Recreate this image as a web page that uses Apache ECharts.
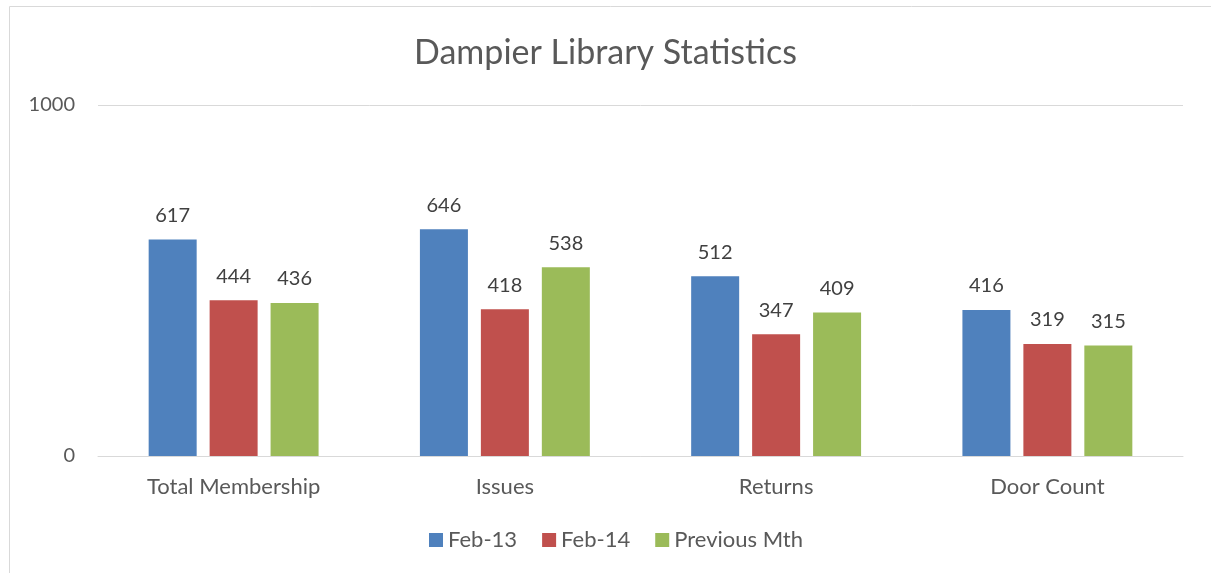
<!DOCTYPE html>
<html><head><meta charset="utf-8">
<script src="https://cdn.jsdelivr.net/npm/echarts@6/dist/echarts.min.js"></script>
<style>html,body{margin:0;padding:0;background:#fff}#c{width:1211px;height:573px}</style>
</head><body><div id="c"></div>
<script>
const categories = ['Total Membership', 'Issues', 'Returns', 'Door Count'];
const feb13 = [617, 646, 512, 416];
const feb14 = [444, 418, 347, 319];
const prevMth = [436, 538, 409, 315];
const seriesNames = ['Feb-13', 'Feb-14', 'Previous Mth'];
const colors = ['#4F81BD', '#C0504D', '#9BBB59'];
const FONT = 'Lato, "Open Sans", sans-serif';

const chart = echarts.init(document.getElementById('c'), null, {renderer: 'canvas'});
const mk = (name, data, color) => ({
  name, type: 'bar', data, barWidth: 48, barGap: '27%',
  itemStyle: {color},
  label: {show: true, position: 'top', distance: 14, color: '#404040', fontSize: 20, fontFamily: FONT}
});
chart.setOption({
  animation: false,
  textStyle: {fontFamily: FONT},
  title: {text: 'Dampier Library Statistics', left: 'center', top: 31,
    textStyle: {fontSize: 34, fontWeight: 'normal', color: '#595959', fontFamily: FONT}},
  graphic: [{type: 'rect', shape: {x: 9.5, y: 6.5, width: 1230, height: 600},
    style: {fill: null, stroke: '#d9d9d9', lineWidth: 1}, silent: true}],
  legend: {bottom: 17, left: 424, itemWidth: 14, itemHeight: 14, itemGap: 25,
    icon: 'rect', textStyle: {fontSize: 22, color: '#595959', fontFamily: FONT},
    data: seriesNames},
  grid: {left: 98, right: 28, top: 105, bottom: 117, containLabel: false},
  xAxis: {type: 'category', data: categories,
    axisLine: {show: true, lineStyle: {color: '#d9d9d9'}}, axisTick: {show: false},
    axisLabel: {color: '#595959', fontSize: 22, margin: 20, fontFamily: FONT}},
  yAxis: {type: 'value', min: 0, max: 1000, interval: 1000,
    axisLine: {show: false}, axisTick: {show: false},
    splitLine: {lineStyle: {color: '#d9d9d9'}},
    axisLabel: {color: '#595959', fontSize: 20, margin: 23, fontFamily: FONT, formatter: v => String(v)}},
  series: [mk(seriesNames[0], feb13, colors[0]), mk(seriesNames[1], feb14, colors[1]), mk(seriesNames[2], prevMth, colors[2])]
});
</script></body></html>
